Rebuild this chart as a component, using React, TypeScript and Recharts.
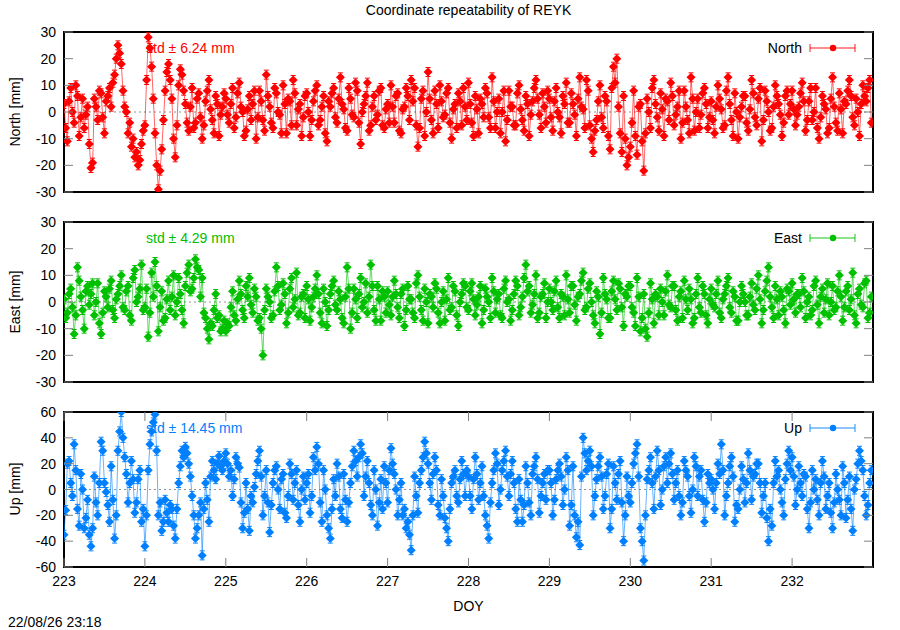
import React from "react";
import { LineChart, Line, XAxis, YAxis, ReferenceLine, ReferenceArea } from "recharts";

// half-hourly solutions, DOY 223.00 .. 232.98, one row per day
const NORTH = [
  3, -6, -11, 4, 9, 0, -4, 10, 6, -9, -2, 5, -6, -1, 2, -12, -21, -19, 5, 2, -3, 8, 7, -2, -8, 4, 6, 9, 2, 11, 14, 20, 25, 22, 18, 8, 2, 0, -8, -4, -13, -10, -17, -15, -20, -18, -12, -7,
  -5, 12, 28, 24, 17, 5, -8, -20, -29, -22, -14, -3, 8, 15, 18, 12, 5, -10, -17, -5, 10, 16, 14, 8, 3, -4, -7, 2, 9, -6, -4, 5, 7, -2, -10, -5, 4, 8, 12, 1, -3, -8, 6, 3, -9, -1, 2, 7,
  5, -1, -4, 3, 9, -6, -2, 7, 11, 2, 0, -9, -7, 1, 6, -3, 3, 8, -10, -2, 8, 4, -3, -7, 14, 6, 2, -4, -6, 9, 7, 0, -1, -8, 10, 3, -8, 5, 4, -5, 12, 7, -5, 1, 3, -9, -2, 6,
  7, 0, -9, -3, 4, 8, 10, -5, -3, 2, 6, -8, -11, 4, 2, 7, 9, -2, -4, 5, 13, 3, 1, -6, -7, 9, 5, -1, -2, 11, 8, -4, -12, 0, 3, 6, 11, -7, -5, 2, 6, -3, -1, 8, 9, -5, -6, 1,
  3, -4, 10, 2, -4, 6, 7, -7, -8, 1, 2, 9, 6, -3, 12, 4, 9, -5, -13, -6, 5, 8, -9, 0, 15, 5, -3, -8, 8, 3, -6, 10, 4, -2, -1, 7, 9, -4, -10, 1, 3, -6, 7, 4, -5, 9, 2, -3,
  11, 3, -4, -9, 6, 1, -8, 5, 3, -2, 9, 7, -2, -6, 13, 4, -6, 0, 5, -8, 0, 8, -11, -3, 8, 2, 2, -5, -5, 7, 10, 1, -3, -7, 6, 3, -9, -1, 4, 9, 12, 5, -1, -6, 7, 2, -4, 8,
  5, -2, -7, 4, 9, 0, -2, -8, 6, 3, 11, -4, -4, 7, 3, -1, -9, 5, 13, 2, 1, -6, 12, 8, -5, -10, -15, -7, -3, 4, 10, -2, -6, 6, 4, -9, -14, 9, 17, 11, 20, 2, -8, -15, 6, -10, -20, -17,
  -13, -4, 8, -9, -16, 2, 3, -11, -22, -8, 5, 0, -6, 9, 12, 3, -2, -7, 7, 1, -9, 5, 4, -3, 11, 6, -5, -1, 2, 8, -10, -4, 8, 2, -3, -8, 13, 5, -7, 0, 5, -6, -1, 7, 9, 3, -6, -2,
  4, -3, -8, 2, 10, 5, 1, -6, -5, 8, 13, 3, -3, -9, 7, 0, -10, -2, 2, 6, 6, -4, -7, 1, 12, 7, -2, -5, 5, 9, -11, -3, 8, 4, 0, -7, -6, 2, 10, 6, 3, -1, -9, -4, 6, 8, -1, 3,
  8, 1, -5, -1, 2, 7, 11, 4, -7, -3, 4, 9, -3, 0, 9, -6, -10, -2, 6, 3, 1, -8, -6, 5, 13, 2, -4, -7, 7, 1, -8, 4, 3, 8, 12, 6, -2, -5, 5, 0, -9, 3, 10, 6, 4, 9, 12, -4,
];

const EAST = [
  1, -6, -4, 3, 5, -2, -12, -5, 13, 8, 2, -3, -10, 4, 6, -1, 3, 7, -5, 0, 7, -8, -12, -4, 4, 2, -2, 5, 8, -3, -6, 1, 3, 6, 10, -2, -3, 4, 6, -5, -7, 9, 12, 0, 2, 5, 14, -3,
  -2, 5, -13, -4, 11, 2, 15, 6, -11, -2, 4, -7, -6, 1, 8, -3, 2, 10, -5, 0, 9, 3, -3, -8, 6, 11, 14, 4, 5, 9, 16, 13, 12, 2, 9, -4, -6, -10, -14, -8, -9, -3, 3, -6, -5, -11, -10, -7,
  -11, -8, -9, -2, 4, -5, -7, 1, 8, 3, -3, -6, 6, 2, 9, -1, -4, 5, 2, -7, -6, -10, -20, -3, 5, 2, 0, -6, -5, 4, 13, 6, -3, -1, 7, 3, -8, -4, 5, 9, -2, 1, 11, -5, -4, 2, 3, -6,
  6, 1, -7, -2, 2, 5, 10, 3, -4, -8, 5, 0, -9, -3, 3, 6, 8, -1, -3, 4, 1, -6, -8, 2, 13, 5, -10, -4, 5, 1, -6, 3, 9, -2, 0, 7, -4, 2, 14, 6, -3, -7, 6, 1, -7, 4, 2, -4,
  4, -1, -5, 2, 8, 3, -2, -6, 3, 5, -9, -3, 6, 1, 1, -4, -6, 7, 10, 2, -3, -7, 5, 0, -8, 3, 2, -2, 7, 5, -4, -8, 0, 4, -7, 1, 9, -3, -2, 6, 4, -5, -9, 0, 3, 7, 6, -2,
  -3, 4, 7, 1, -5, -1, 2, 6, -8, -3, 5, 2, 0, -6, 9, 4, -4, 1, 3, -5, -6, 5, 8, 0, 1, -7, -3, 3, 8, 6, -5, -2, 2, 9, 14, 4, 6, -4, -1, 3, 10, -6, -4, 2, 3, 7, -6, 0,
  5, 0, -3, 4, 8, -2, -6, 3, 2, -5, 10, 1, -4, 6, 6, -1, -7, 2, 3, 8, 11, -3, -2, 5, 7, 0, -5, -8, 4, 2, -12, -4, 9, 3, 1, -6, -6, 4, 8, 1, -3, 7, 5, -2, -9, 3, 2, 6,
  6, -2, -4, -9, 9, 2, -11, -6, 3, -10, -13, -4, 7, 1, -8, 3, 2, -5, 5, 0, -5, 4, 10, -1, -2, 6, 6, -3, -7, 2, 4, -6, 8, 1, -3, 5, 1, -8, -6, 3, 9, -2, -4, 6, 3, -5, -8, 1,
  5, -1, -2, 3, 8, -4, -6, 1, 3, 6, 9, -2, -4, 4, 2, -7, -7, 0, 6, 3, 0, -5, -5, 2, 7, -1, -3, 5, 10, 1, -8, -3, 4, 8, 13, 2, -2, -6, 6, 1, -5, 4, 2, -3, -8, 5, 4, -1,
  7, 1, -4, 3, 3, -2, 9, 4, -6, 0, 2, -5, -3, 6, 8, -1, -8, 2, 5, -4, 1, 7, -5, 0, 6, -3, -2, 4, 10, 2, -7, -2, 4, 6, -3, 1, 11, -5, -8, 3, 5, -1, -2, 7, 8, -6, -4, 2,
];

const UP = [
  -35, -16, 20, 22, 5, -5, 35, 15, -15, -28, 12, 0, -30, -22, -8, -35, -44, -30, 10, -10, -20, 5, 37, 30, 5, -2, -12, -25, 18, -8, -38, -20, 30, 45, 60, 40, 25, 12, -10, 5, 22, 8, -18, -10, 8, 15, -25, -15,
  -44, -20, 15, 35, 45, 52, 58, 30, -20, -10, -32, -25, -8, -18, -25, -12, -15, -28, -38, -15, 5, 18, 30, 25, 33, 28, 20, 10, -5, -20, -38, -30, -20, -10, -51, -15, 5, -8, -25, 10, 22, 15, 8, 20, 26, 18, 15, 22,
  28, 20, 10, 15, -5, 8, 25, 20, 17, -10, -30, -18, 5, -15, -32, -5, -10, 2, 12, 22, 30, 10, -20, -5, 15, -10, -33, -12, 5, 15, 18, 0, -15, 8, 12, -18, -22, -5, 20, 12, -8, 5, 15, -12, -25, 0, 10, -8,
  5, 12, -18, -5, 25, 15, 33, 20, -10, -25, 15, 0, -20, -30, -38, -15, 8, -5, 20, 10, -15, -22, 12, -8, -25, -10, 5, 18, 30, 22, 10, 25, 35, 28, -5, 10, 22, 5, -12, -20, 15, 0, -28, -10, 8, -15, 18, 5,
  -10, 15, 32, 20, 12, 0, -20, -8, 5, -20, -15, -30, -25, -35, -47, -20, 10, -5, -18, 5, 15, 25, 37, 28, 20, 5, -8, 12, 25, 15, -12, -20, 8, -5, -22, -30, -40, -15, 5, 10, 15, -5, -10, 8, 22, 12, -5, 15,
  10, -5, -15, 8, 25, 12, -8, 5, 18, -5, -20, -28, -38, -10, 5, 15, 28, 20, -12, 0, 15, 22, 30, 10, -5, 12, 22, 5, -15, -25, 8, -8, -25, -12, 18, 5, -10, -20, 12, 18, 25, 8, -18, -5, 5, 12, -8, 15,
  15, 5, -20, -8, 8, 15, 20, 10, -12, 0, 25, 15, -28, -12, 18, -20, -37, -25, -43, 10, 40, 28, 15, 22, 30, 18, -20, -5, 8, 18, 25, 10, -15, -5, 12, 20, -30, -15, 18, 5, -8, 12, 22, -10, -40, -20, 10, -5,
  -10, 5, 20, 28, 35, 10, -30, -40, -55, -20, 8, 15, 25, 5, -15, 10, 30, 15, -12, 0, 18, 25, 5, 20, 28, 12, -8, 5, 15, -5, -20, -10, 22, 15, 10, -5, -18, 0, 25, 18, -5, 10, 15, -8, -25, -10, 12, 5,
  8, 0, -15, 5, 20, 12, 35, 15, -20, -5, 5, 18, 25, 10, -25, -12, -15, 0, 18, 8, -10, 5, 28, 15, -8, 10, 12, 20, 20, 5, -18, -5, 5, -22, -40, -15, -28, 5, 22, 10, 15, 0, -10, -20, 8, 20, 30, 15,
  25, 10, -12, 0, 18, 5, -5, 12, 10, -15, -30, -10, 15, 0, 8, -8, -20, 5, 22, 10, -15, -5, 5, -18, -30, -10, 12, 0, -8, -20, 18, 5, -22, -8, 10, -15, -32, 0, 8, 20, 30, 22, 15, -5, -20, -12, 5, 15,
];

const TIMES = NORTH.map((_, i) => 223 + i / 48);
const DOY_TICKS = [223, 224, 225, 226, 227, 228, 229, 230, 231, 232];
const NE_TICKS = [-30, -20, -10, 0, 10, 20, 30];
const UP_TICKS = [-60, -40, -20, 0, 20, 40, 60];

const FONT = '"Liberation Sans", Arial, Helvetica, sans-serif';
const LEFT = 64;
const RIGHT = 873;
const PAD = 12;

function Panel({ values, color, top, h, lim, ticks, name, std, showX }: any) {
  const data = TIMES.map((t, i) => ({ t, v: values[i] }));
  const xh = showX ? 32 : 0;
  const plotTop = PAD;
  const plotBottom = PAD + h;

  const diamond = (p: any) => {
    if (p.cx == null || p.cy == null) return <g key={`d${p.index}`} />;
    const { cx, cy } = p;
    return (
      <g key={`d${p.index}`}>
        <line x1={cx - 2.5} x2={cx + 2.5} y1={cy - 4.5} y2={cy - 4.5} stroke={color} strokeWidth={1} />
        <line x1={cx - 2.5} x2={cx + 2.5} y1={cy + 4.5} y2={cy + 4.5} stroke={color} strokeWidth={1} />
        <path d={`M${cx},${cy - 4.5}L${cx + 4.5},${cy}L${cx},${cy + 4.5}L${cx - 4.5},${cy}Z`} fill={color} />
      </g>
    );
  };

  const yTick = ({ y, payload }: any) => (
    <g>
      <line x1={LEFT} x2={LEFT + 9} y1={y} y2={y} stroke="#808080" />
      <line x1={RIGHT - 9} x2={RIGHT} y1={y} y2={y} stroke="#808080" />
      <text x={56} y={y} dy={5} textAnchor="end" fontSize={14} fontFamily={FONT} fill="#000">
        {payload.value}
      </text>
    </g>
  );

  const xTick = ({ x, payload }: any) => (
    <g>
      <line x1={x} x2={x} y1={plotBottom} y2={plotBottom - 9} stroke="#808080" />
      <line x1={x} x2={x} y1={plotTop} y2={plotTop + 9} stroke="#808080" />
      <text x={x} y={plotBottom + 19} textAnchor="middle" fontSize={14} fontFamily={FONT} fill="#000">
        {payload.value}
      </text>
    </g>
  );

  return (
    <div style={{ position: "absolute", left: 0, top: top - PAD }}>
      <LineChart
        width={900}
        height={PAD + h + (showX ? xh : PAD)}
        data={data}
        margin={{ top: PAD, right: 900 - RIGHT, bottom: showX ? 0 : PAD, left: 0 }}
      >
        <XAxis
          type="number"
          dataKey="t"
          domain={[223, 233]}
          ticks={DOY_TICKS}
          interval={0}
          hide={!showX}
          height={xh}
          axisLine={false}
          tickLine={false}
          tick={xTick}
          allowDataOverflow
        />
        <YAxis
          type="number"
          domain={[-lim, lim]}
          ticks={ticks}
          interval={0}
          width={LEFT}
          axisLine={false}
          tickLine={false}
          tick={yTick}
          allowDataOverflow
        />
        <ReferenceLine y={0} stroke="#909090" strokeDasharray="2 3" />
        <Line
          type="linear"
          dataKey="v"
          stroke={color}
          strokeOpacity={0.6}
          strokeWidth={1}
          dot={diamond}
          activeDot={false}
          isAnimationActive={false}
        />
        <ReferenceArea x1={223} x2={233} y1={-lim} y2={lim} fill="none" stroke="#000" strokeWidth={2} />
      </LineChart>
      <div
        style={{
          position: "absolute",
          left: 146,
          top: PAD + 16,
          transform: "translateY(-50%)",
          color,
          font: `14px ${FONT}`,
          whiteSpace: "nowrap",
        }}
      >
        {std}
      </div>
      <div
        style={{
          position: "absolute",
          right: 900 - 802,
          top: PAD + 16,
          transform: "translateY(-50%)",
          color: "#000",
          font: `14px ${FONT}`,
        }}
      >
        {name}
      </div>
      <svg width={50} height={10} style={{ position: "absolute", left: 808, top: PAD + 11 }}>
        <g stroke={color} strokeOpacity={0.6} strokeWidth={1.5}>
          <line x1={2} x2={47} y1={5} y2={5} />
          <line x1={2} x2={2} y1={1} y2={9} />
          <line x1={47} x2={47} y1={1} y2={9} />
        </g>
        <circle cx={25} cy={5} r={3.2} fill={color} />
      </svg>
    </div>
  );
}

function VLabel({ text, cy }: { text: string; cy: number }) {
  return (
    <div
      style={{
        position: "absolute",
        left: 15,
        top: cy,
        transform: "translate(-50%, -50%) rotate(-90deg)",
        font: `14px ${FONT}`,
        whiteSpace: "nowrap",
      }}
    >
      {text}
    </div>
  );
}

export default function App() {
  return (
    <div style={{ position: "absolute", left: 0, top: 0, width: 900, height: 630, background: "#fff", fontFamily: FONT }}>
      <div
        style={{
          position: "absolute",
          left: (LEFT + RIGHT) / 2,
          top: 10,
          transform: "translate(-50%, -50%)",
          font: `14px ${FONT}`,
          whiteSpace: "nowrap",
        }}
      >
        Coordinate repeatability of REYK
      </div>

      <Panel values={NORTH} color="#ff0000" top={32} h={160} lim={30} ticks={NE_TICKS} name="North" std="std ± 6.24 mm" />
      <Panel values={EAST} color="#00c000" top={222} h={160} lim={30} ticks={NE_TICKS} name="East" std="std ± 4.29 mm" />
      <Panel values={UP} color="#0080ff" top={412} h={155} lim={60} ticks={UP_TICKS} name="Up" std="std ± 14.45 mm" showX />

      <VLabel text="North [mm]" cy={112} />
      <VLabel text="East [mm]" cy={302} />
      <VLabel text="Up [mm]" cy={489} />

      <div
        style={{
          position: "absolute",
          left: (LEFT + RIGHT) / 2,
          top: 606,
          transform: "translate(-50%, -50%)",
          font: `14px ${FONT}`,
        }}
      >
        DOY
      </div>
      <div
        style={{
          position: "absolute",
          left: 8,
          top: 622,
          transform: "translateY(-50%)",
          font: `14px ${FONT}`,
          whiteSpace: "nowrap",
        }}
      >
        22/08/26 23:18
      </div>
    </div>
  );
}
